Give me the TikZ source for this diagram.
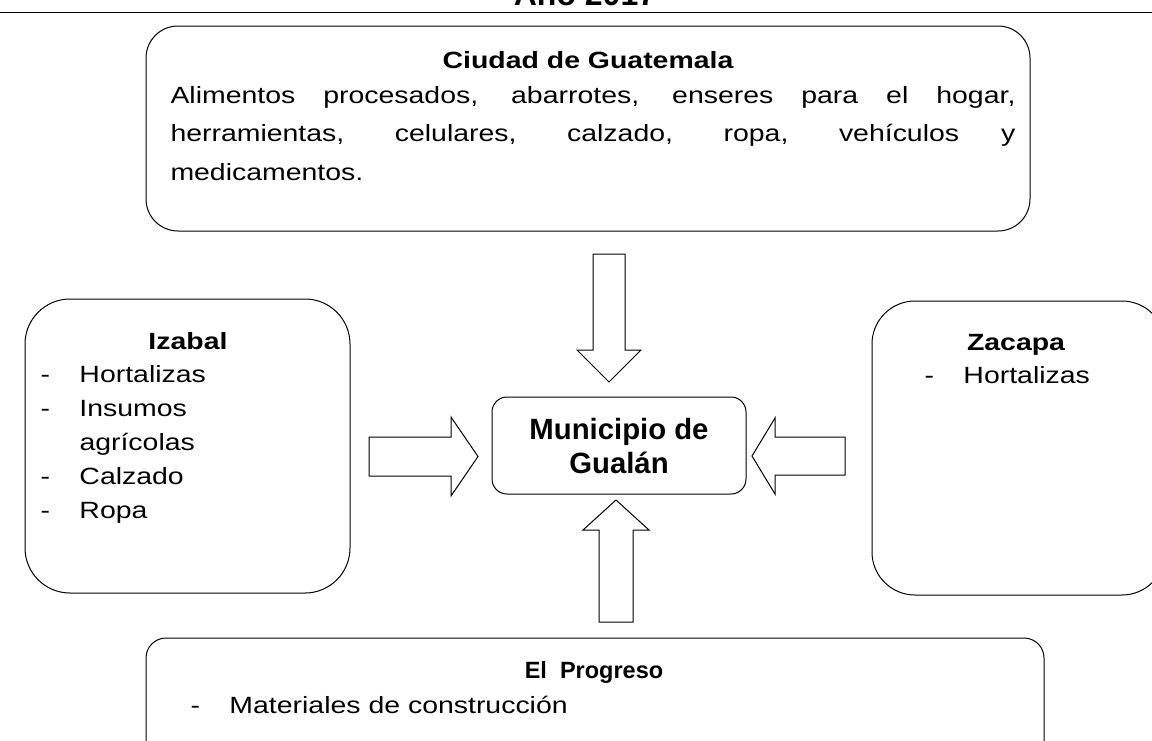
\documentclass[tikz,border=0pt]{standalone}
\usepackage{fontspec}
\setmainfont{Liberation Sans}[FakeStretch=1.21]
\newfontfamily\munifont{Liberation Sans}
\usetikzlibrary{positioning}
\usetikzlibrary{calc}

\begin{document}
\begin{tikzpicture}[
            x = 1pt, y = 1pt, % one unit per pixel
            line width = 1pt, % line style
            box/.style = {draw, rounded corners = #1, inner sep = 0pt},
            txt/.style = {inner sep = 0pt, font = \fontsize{23.5}{34}\selectfont},
            ttl/.style = {inner sep = 0pt, font = \fontsize{23.5}{34}\selectfont\bfseries},
            % hollow block arrow: shaft half width, head half width, head length
            fatarrow/.style n args = {3}{draw, line join = miter, to path = {
                let \p1 = (\tikztostart), \p2 = (\tikztotarget),
                    \n1 = {atan2(\y2-\y1,\x2-\x1)}, \n2 = {veclen(\x2-\x1,\y2-\y1)} in
                ($(\p1)+(\n1+90:#1)$) -- ($(\p1)+(\n1+90:#1)+(\n1:\n2-#3)$)
                -- ($(\p1)+(\n1+90:#2)+(\n1:\n2-#3)$) -- (\p2)
                -- ($(\p1)+(\n1-90:#2)+(\n1:\n2-#3)$) -- ($(\p1)+(\n1-90:#1)+(\n1:\n2-#3)$)
                -- ($(\p1)+(\n1-90:#1)$) -- cycle}}
            ]

        \useasboundingbox (0,0) rectangle (1152,-740);

        % heading, cut by the page
        \node[ttl, anchor = base, font = \munifont\bfseries\fontsize{32}{32}\selectfont] (year) at (585,-5) {Año 2017};
        \coordinate (ruleL) at (0,-12.5);
        \coordinate (ruleR) at (1152,-12.5);
        \draw[line width = 1.6pt] (ruleL) -- (ruleR);

        % boxes
        \node[box = 32, minimum width = 884pt, minimum height = 205pt] (guate) at (588,-128.5) {};
        \node[box = 45, minimum width = 325pt, minimum height = 294pt] (izabal) at (187.5,-446) {};
        \node[box = 43, minimum width = 293pt, minimum height = 294pt] (zacapa) at (1018.5,-448) {};
        \node[box = 20, minimum width = 898pt, minimum height = 132pt] (progreso) at (595,-704) {};
        \node[box = 15, minimum width = 254pt, minimum height = 97pt] (muni) at (619,-445.5) {};

        % ciudad de guatemala
        \node[ttl, anchor = base] (guateT) at (588,-68) {Ciudad de Guatemala};
        \node[txt, anchor = base west] (guateB) at (170,-103) {\parbox[t]{845pt}{\baselineskip=38.5pt
            Alimentos procesados, abarrotes, enseres para el hogar,\linebreak
            herramientas, celulares, calzado, ropa, vehículos y\linebreak
            medicamentos.}};

        % izabal
        \node[ttl, anchor = base] (izabalT) at (188,-349) {Izabal};
        \node[txt, anchor = base west] (izabalL) at (40,-382) {\begin{tabular}[t]{@{}p{39pt}@{}l@{}}
            - & Hortalizas \\ - & Insumos \\ & agrícolas \\ - & Calzado \\ - & Ropa
            \end{tabular}};

        % zacapa
        \node[ttl, anchor = base] (zacapaT) at (1016,-350) {Zacapa};
        \node[txt, anchor = base west] (zacapaL) at (924,-383) {\begin{tabular}[t]{@{}p{39pt}@{}l@{}}
            - & Hortalizas
            \end{tabular}};

        % el progreso
        \node[ttl, anchor = base, font = \munifont\bfseries\fontsize{23.5}{34}\selectfont] (progresoT) at (594,-678) {El\ \ Progreso};
        \node[txt, anchor = base west] (progresoL) at (190,-713) {\begin{tabular}[t]{@{}p{39pt}@{}l@{}}
            - & Materiales de construcción
            \end{tabular}};

        % municipio
        \node[txt, anchor = base, font = \munifont\bfseries\fontsize{29.3}{34}\selectfont] (muniT) at (619,-439)
            {\begin{tabular}[t]{@{}c@{}} Municipio de \\ Gualán \end{tabular}};

        % arrows into the municipio
        \coordinate (guateS) at (609,-254);
        \coordinate (guateE) at (609,-382);
        \coordinate (izabalS) at (369,-456.5);
        \coordinate (izabalE) at (478,-456.5);
        \coordinate (zacapaS) at (845,-456);
        \coordinate (zacapaE) at (752,-456);
        \coordinate (progresoS) at (616,-622);
        \coordinate (progresoE) at (616,-500);

        \draw[fatarrow = {16}{32}{32}] (guateS) to (guateE);
        \draw[fatarrow = {19.5}{39.5}{27}] (izabalS) to (izabalE);
        \draw[fatarrow = {19}{38}{23}] (zacapaS) to (zacapaE);
        \draw[fatarrow = {17}{33}{30}] (progresoS) to (progresoE);

\end{tikzpicture}
\end{document}
